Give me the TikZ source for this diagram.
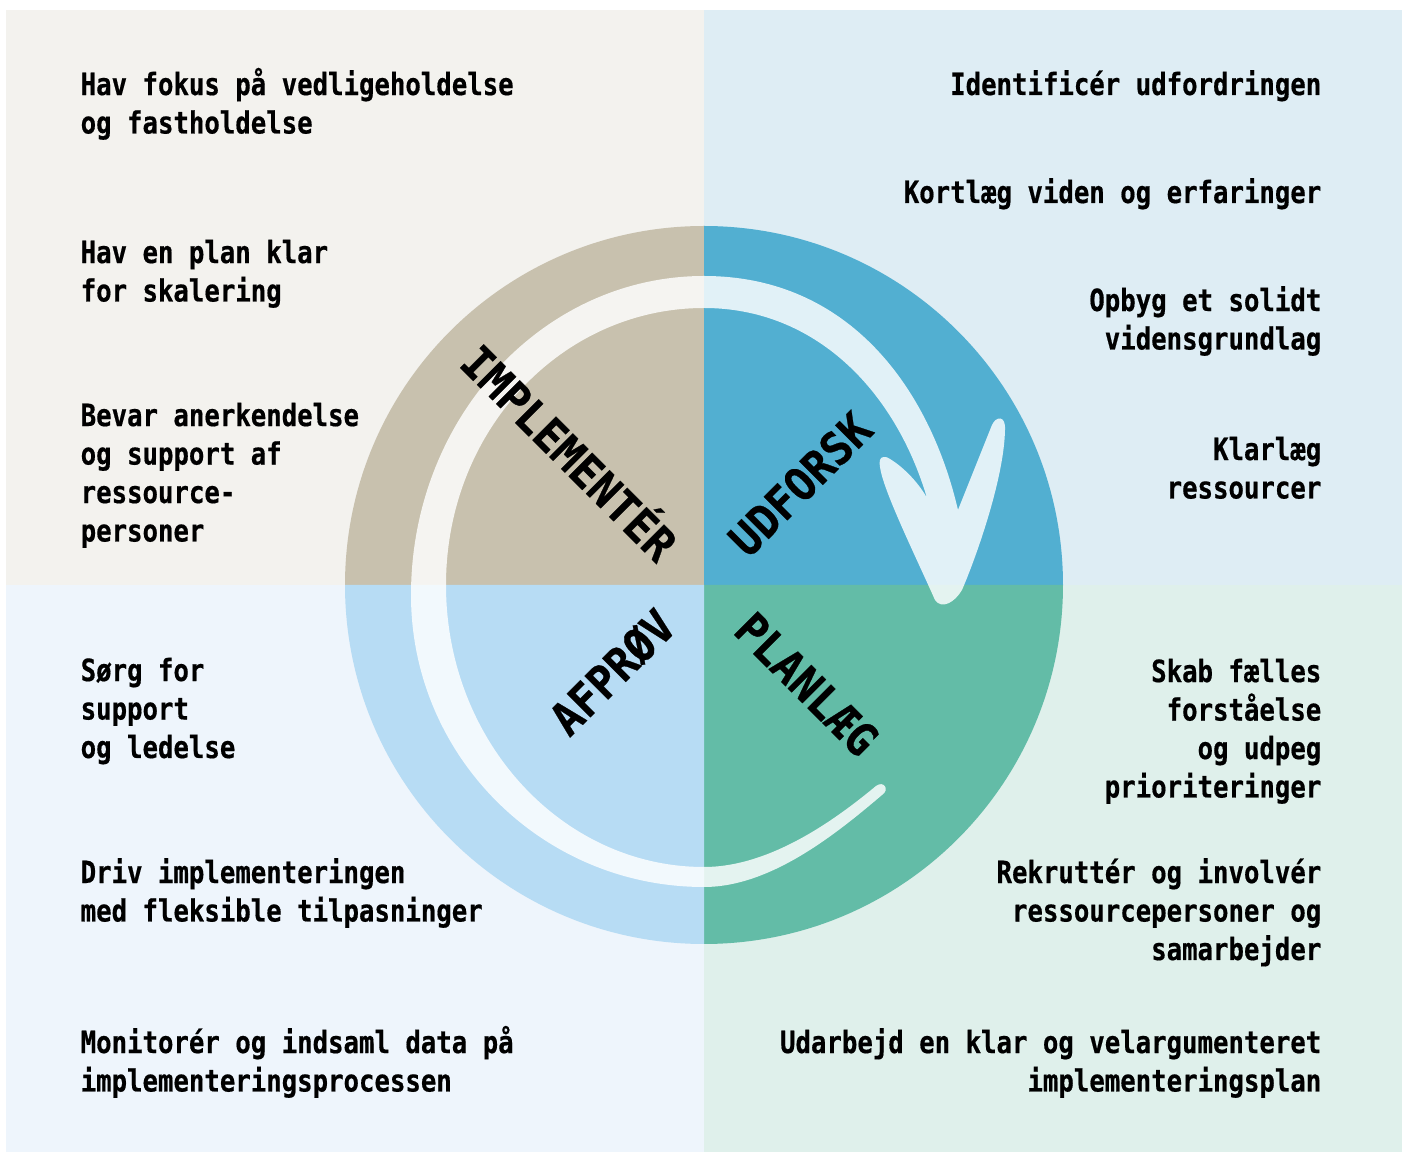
\documentclass[tikz,border=0pt]{standalone}
\usepackage{fontspec}
\usepackage{tikz}
\newfontfamily\stepfont{DejaVu Sans Mono Bold}[FakeStretch=0.84,FakeBold=0.5]
\newfontfamily\phasefont{DejaVu Sans Mono Bold}[FakeStretch=0.93,FakeBold=0.6]
\definecolor{tlback}{HTML}{F3F2EE}
\definecolor{trback}{HTML}{DEEDF4}
\definecolor{blback}{HTML}{EEF5FC}
\definecolor{brback}{HTML}{DFF0EB}
\definecolor{tldisc}{HTML}{C8C1AE}
\definecolor{trdisc}{HTML}{52AFD1}
\definecolor{bldisc}{HTML}{B7DCF4}
\definecolor{brdisc}{HTML}{63BCA7}

\begin{document}
\begin{tikzpicture}[x=0.1mm,y=-0.1mm,
	steptext/.style={font=\stepfont\fontsize{8.7}{10.95}\selectfont,inner sep=0},
	lefttext/.style={steptext,anchor=base west,align=left},
	righttext/.style={steptext,anchor=base east,align=right},
	phase/.style={font=\phasefont\fontsize{13}{14}\selectfont,inner sep=0,text height=9.5pt,text depth=0pt}]
	\fill[white] (0,0) rectangle (1406,1154);
	\fill[tlback] (6,10) rectangle (704,585);
	\fill[trback] (704,10) rectangle (1402,585);
	\fill[blback] (6,585) rectangle (704,1152);
	\fill[brback] (704,585) rectangle (1402,1152);
	\coordinate (c) at (704,585);
	\fill[tldisc] (c) -- ++(-359,0) arc[start angle=180,end angle=270,radius=359] -- cycle;
	\fill[trdisc] (c) -- ++(0,-359) arc[start angle=270,end angle=360,radius=359] -- cycle;
	\fill[brdisc] (c) -- ++(359,0) arc[start angle=0,end angle=90,radius=359] -- cycle;
	\fill[bldisc] (c) -- ++(0,359) arc[start angle=90,end angle=180,radius=359] -- cycle;
	\fill[white,opacity=0.83] (882,795) .. controls (835,835) and (770,887) .. (704,887)
		.. controls (542,887) and (411,756) .. (411,595)
		.. controls (411,419) and (542,276) .. (704,276)
		.. controls (850,276) and (930,390) .. (958,510)
		-- (992,425)
		.. controls (996,416) and (1006,415) .. (1005,430)
		.. controls (1004,480) and (975,560) .. (962,590)
		.. controls (955,602) and (942,610) .. (935,600)
		.. controls (915,555) and (883,490) .. (880,467)
		.. controls (878,456) and (884,455) .. (890,459)
		.. controls (905,468) and (920,485) .. (927,498)
		.. controls (895,390) and (815,308) .. (704,308)
		.. controls (562,308) and (446,430) .. (446,585)
		.. controls (446,741) and (562,867) .. (704,867)
		.. controls (770,867) and (835,820) .. (876,786)
		.. controls (884,780) and (890,790) .. (882,795) -- cycle;
	\node[phase,rotate=-45] (implementer) at (569,453) {IMPLEMENTÉR};
	\node[phase,rotate=45] (udforsk) at (800,484) {UDFORSK};
	\node[phase,rotate=45] (afproev) at (612,672) {AFPRØV};
	\node[phase,rotate=-45] (planlaeg) at (807,684) {PLANLÆG};
	\node[lefttext] (fokus) at (80,133.5) {Hav fokus på vedligeholdelse\\og fastholdelse};
	\node[lefttext] (skalering) at (80,301.5) {Hav en plan klar\\for skalering};
	\node[lefttext] (anerkendelse) at (80,541.5) {Bevar anerkendelse\\og support af\\ressource-\\personer};
	\node[lefttext] (support) at (80,758) {Sørg for\\support\\og ledelse};
	\node[lefttext] (driv) at (80,921.5) {Driv implementeringen\\med fleksible tilpasninger};
	\node[lefttext] (monitor) at (80,1091.5) {Monitorér og indsaml data på\\implementeringsprocessen};
	\node[righttext] (identificer) at (1322,95) {Identificér udfordringen};
	\node[righttext] (kortlaeg) at (1322,203) {Kortlæg viden og erfaringer};
	\node[righttext] (opbyg) at (1322,349.5) {Opbyg et solidt\\vidensgrundlag};
	\node[righttext] (klarlaeg) at (1322,498.5) {Klarlæg\\ressourcer};
	\node[righttext] (skab) at (1322,797.5) {Skab fælles\\forståelse\\og udpeg\\prioriteringer};
	\node[righttext] (rekrutter) at (1322,960) {Rekruttér og involvér\\ressourcepersoner og\\samarbejder};
	\node[righttext] (udarbejd) at (1322,1091.5) {Udarbejd en klar og velargumenteret\\implementeringsplan};
\end{tikzpicture}
\end{document}
